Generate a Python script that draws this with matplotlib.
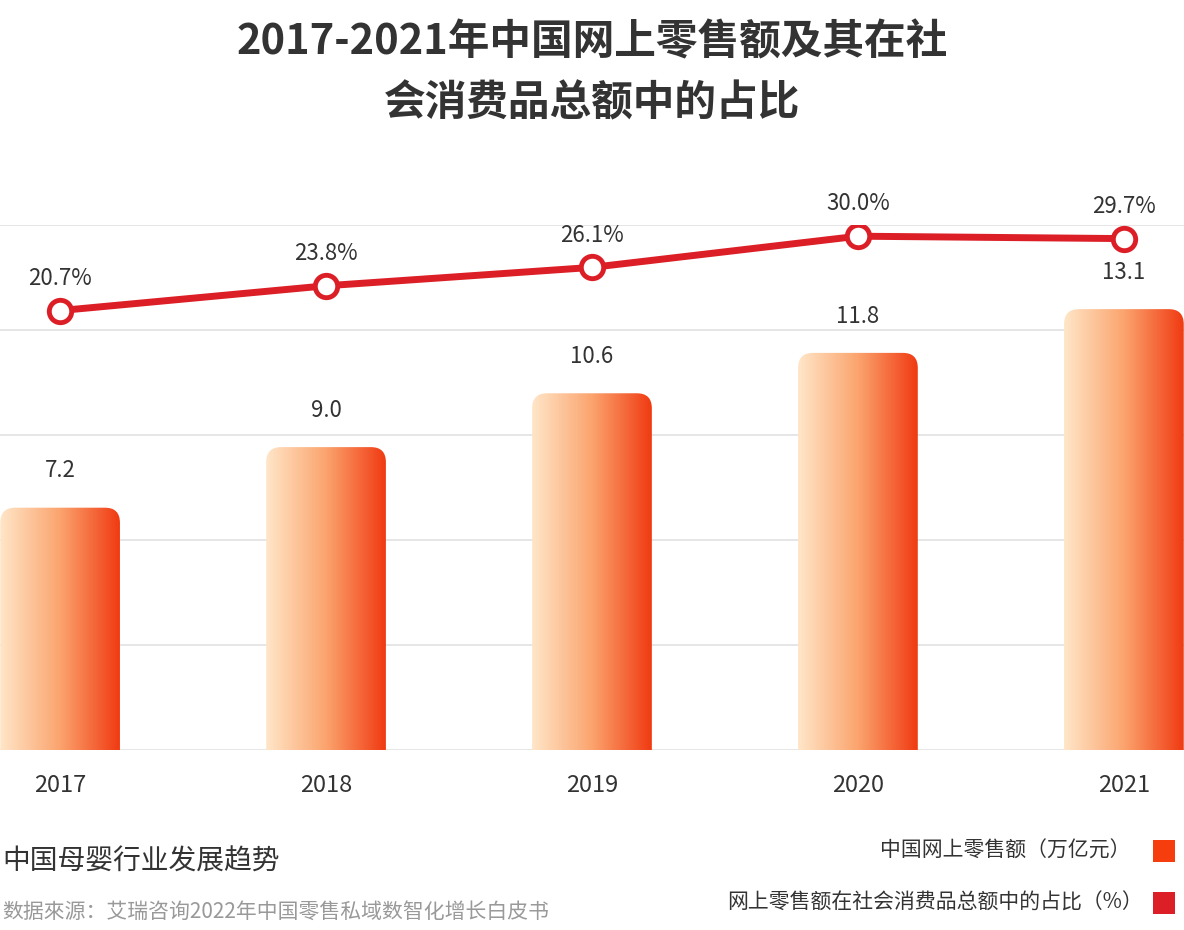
import matplotlib
matplotlib.use("Agg")
import matplotlib.pyplot as plt
import numpy as np
from matplotlib.patches import FancyBboxPatch, Rectangle
from matplotlib.colors import LinearSegmentedColormap

plt.rcParams['font.family'] = ['Noto Sans CJK SC', 'DejaVu Sans']

years = ['2017', '2018', '2019', '2020', '2021']
sales = [7.2, 9.0, 10.6, 11.8, 13.1]
share = [20.7, 23.8, 26.1, 30.0, 29.7]

W, H = 1184, 930
fig = plt.figure(figsize=(W/100, H/100), dpi=100)
ax = fig.add_axes([0, (H-750)/H, 1, (750-225)/H])
x = np.arange(len(years))
ymax = 15.6
for g in np.linspace(0, ymax, 6):
    ax.axhline(g, color='#e2e2e2', lw=1.2, zorder=0)
for s in ax.spines.values():
    s.set_visible(False)
ax.set_xticks([]); ax.set_yticks([])

grad = np.linspace(0, 1, 256)[None, :]
cmap = LinearSegmentedColormap.from_list('g', ['#FFE6C8', '#FBA46E', '#F03A12'])
bw = 0.45
for xi, v in zip(x, sales):
    patch = FancyBboxPatch((xi-bw/2, -2), bw, v+2, boxstyle='round,pad=0,rounding_size=0.056',
                           mutation_aspect=8, fc='none', ec='none', transform=ax.transData)
    ax.add_patch(patch)
    im = ax.imshow(grad, cmap=cmap, extent=(xi-bw/2, xi+bw/2, 0, v), aspect='auto', zorder=2)
    im.set_clip_path(patch)
    ax.text(xi, v+0.75, f'{v:.1f}', ha='center', va='bottom', fontsize=16, color='#333333')
ax.set_xlim(-0.226, 4.226); ax.set_ylim(0, ymax)

ax2 = ax.twinx()
ax2.set_ylim(-34.25, 31.4)
ax2.axis('off')
ax2.plot(x, share, color='#DC1F26', lw=5, zorder=5, solid_capstyle='round')
ax2.scatter(x, share, s=260, facecolor='white', edgecolor='#DC1F26', linewidth=3.5, zorder=6)
for xi, v in zip(x, share):
    ax2.text(xi, v+2.6, f'{v:.1f}%', ha='center', va='bottom', fontsize=16, color='#333333')

for xi, yl in zip(x, years):
    fig.text((xi+0.226)/4.452, 1-785/H, yl, ha='center', va='center', fontsize=17,
             fontweight='medium', color='#333333')

fig.text(0.5, 1-42/H, '2017-2021年中国网上零售额及其在社', ha='center', va='center',
         fontsize=30, fontweight='bold', color='#333333')
fig.text(0.5, 1-103/H, '会消费品总额中的占比', ha='center', va='center',
         fontsize=30, fontweight='bold', color='#333333')

fig.text(2/W, 1-862/H, '中国母婴行业发展趋势', ha='left', va='center', fontsize=20, color='#333333')
fig.text(2/W, 1-912/H, '数据來源：艾瑞咨询2022年中国零售私域数智化增长白皮书', ha='left', va='center',
         fontsize=15, color='#999999')

fig.text(1130/W, 1-851/H, '中国网上零售额（万亿元）', ha='right', va='center', fontsize=15, color='#333333')
fig.text(1143/W, 1-903/H, '网上零售额在社会消费品总额中的占比（%）', ha='right', va='center', fontsize=15, color='#333333')
fig.patches.append(Rectangle((1153/W, 1-862/H), 22/W, 22/H, transform=fig.transFigure, fc='#F53D0E', ec='none'))
fig.patches.append(Rectangle((1153/W, 1-914/H), 22/W, 22/H, transform=fig.transFigure, fc='#DC1F26', ec='none'))

fig.savefig('out.png', dpi=100, facecolor='white')
